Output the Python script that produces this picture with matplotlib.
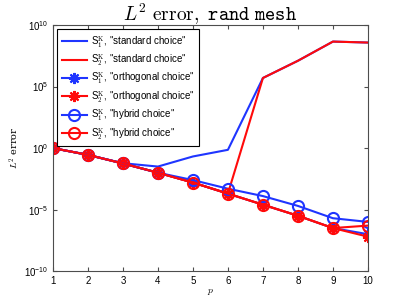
import numpy as np
import matplotlib.pyplot as plt

plt.rcParams['mathtext.fontset'] = 'cm'
plt.rcParams['font.family'] = ['Liberation Sans', 'DejaVu Sans']

p = [1, 2, 3, 4, 5, 6, 7, 8, 9, 10]

# log10 of the L2 error
s1_standard = [0.0, -0.55, -1.23, -1.5, -0.68, -0.14, 5.7, 7.1, 8.66, 8.58]
s2_standard = [0.0, -0.55, -1.25, -2.0, -2.8, -3.7, 5.7, 7.1, 8.66, 8.58]
s1_orth = [0.0, -0.55, -1.25, -2.0, -2.8, -3.7, -4.6, -5.5, -6.5, -7.0]
s2_orth = [0.0, -0.55, -1.25, -2.0, -2.8, -3.7, -4.6, -5.5, -6.5, -7.2]
s1_hybrid = [0.0, -0.55, -1.25, -2.0, -2.6, -3.3, -3.9, -4.7, -5.7, -6.0]
s2_hybrid = [0.0, -0.55, -1.25, -2.0, -2.8, -3.7, -4.6, -5.5, -6.5, -6.3]

blue = '#1f35ff'
red = '#ff0a0a'
star = (8, 2, 0)

fig = plt.figure(figsize=(4.07, 3.06), dpi=100)
ax = fig.add_axes([0.130, 0.114, 0.774, 0.804])

def pw(v):
    return [10.0 ** x for x in v]

ax.semilogy(p, pw(s1_standard), '-', color=blue, lw=1.5,
            label=r'S$_1^{\rm K}$, "standard choice"')
ax.semilogy(p, pw(s2_standard), '-', color=red, lw=1.5,
            label=r'S$_2^{\rm K}$, "standard choice"')
ax.semilogy(p, pw(s1_orth), '-', color=blue, lw=1.5, marker=star, ms=8, mew=1.5,
            label=r'S$_1^{\rm K}$, "orthogonal choice"')
ax.semilogy(p, pw(s2_orth), '-', color=red, lw=1.5, marker=star, ms=8, mew=1.5,
            label=r'S$_2^{\rm K}$, "orthogonal choice"')
ax.semilogy(p, pw(s1_hybrid), '-', color=blue, lw=1.5, marker='o', ms=8, mew=1.5,
            mfc='none', label=r'S$_1^{\rm K}$, "hybrid choice"')
ax.semilogy(p, pw(s2_hybrid), '-', color=red, lw=1.5, marker='o', ms=8, mew=1.5,
            mfc='none', label=r'S$_2^{\rm K}$, "hybrid choice"')

ax.set_xlim(1, 10)
ax.set_ylim(1e-10, 1e10)
ax.set_xticks(p)
ax.set_yticks([1e-10, 1e-5, 1e0, 1e5, 1e10])
ax.minorticks_off()
ax.tick_params(direction='in', top=True, right=True, labelsize=7, length=3,
               color='0.3')
for s in ax.spines.values():
    s.set_color('0.3')
    s.set_linewidth(0.8)

ax.set_title(r'$L^2\ \mathrm{error,}\ \mathtt{rand\ mesh}$', fontsize=14, pad=3)
ax.set_xlabel(r'$p$', fontsize=7, labelpad=1)
ax.set_ylabel(r'$L^2$ error', fontsize=7, labelpad=2)
ax.yaxis.label.set_fontfamily(['DejaVu Serif'])

leg = ax.legend(loc='upper left', fontsize=7, fancybox=False, framealpha=1,
                edgecolor='k', borderaxespad=0.4, handlelength=2.6,
                handletextpad=0.4, labelspacing=0.25, borderpad=0.5)
leg.get_frame().set_linewidth(0.8)

fig.savefig('out.png', dpi=100)
